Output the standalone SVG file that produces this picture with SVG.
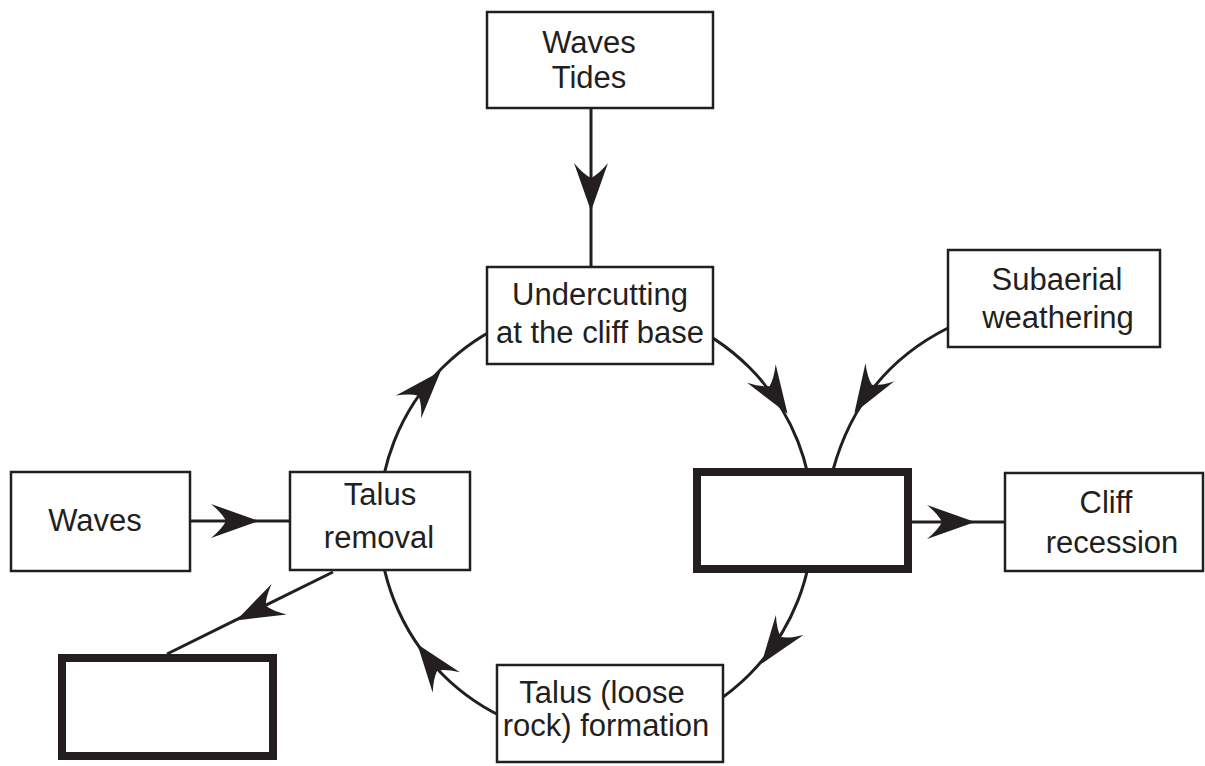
<svg xmlns="http://www.w3.org/2000/svg" xmlns:xlink="http://www.w3.org/1999/xlink" width="1205" height="766" viewBox="0 0 1205 766">
<style>
.box{fill:#fff;stroke:#231f20;stroke-width:2.5}
.thick{fill:#fff;stroke:#231f20;stroke-width:8}
.ln{fill:none;stroke:#231f20;stroke-width:3}
.ah{fill:#231f20;stroke:none}
text{font-family:"Liberation Sans",Arial,Helvetica,sans-serif;font-size:31px;fill:#231f20;text-anchor:middle}
</style>
<defs>
<path id="ah" class="ah" d="M1,0 L-47,-17 Q-36,-8 -32,0 Q-36,8 -47,17 Z"/>
</defs>
<rect width="1205" height="766" fill="#fff"/>
<g id="connectors">
<circle class="ln" cx="596" cy="521" r="217"/>
<line class="ln" x1="591" y1="108" x2="591" y2="267"/>
<line class="ln" x1="190" y1="521" x2="290" y2="521"/>
<line class="ln" x1="912" y1="522" x2="1005" y2="522"/>
<line class="ln" x1="333" y1="572" x2="167" y2="654"/>
<path class="ln" d="M948,328 Q860,372 833,470"/>
<use xlink:href="#ah" transform="translate(591,210) rotate(90)"/>
<use xlink:href="#ah" transform="translate(258,521)"/>
<use xlink:href="#ah" transform="translate(974,522)"/>
<use xlink:href="#ah" transform="translate(237,620) rotate(153.7)"/>
<use xlink:href="#ah" transform="translate(855,412) rotate(122)"/>
<use xlink:href="#ah" transform="translate(787,413) rotate(57)"/>
<use xlink:href="#ah" transform="translate(762,663) rotate(126)"/>
<use xlink:href="#ah" transform="translate(418,645) rotate(233)"/>
<use xlink:href="#ah" transform="translate(440,372) rotate(-48)"/>
</g>
<g id="waves-tides">
<rect class="box" x="487" y="12" width="226" height="96"/>
<text x="589" y="53">Waves</text>
<text x="589" y="88">Tides</text>
</g>
<g id="undercutting">
<rect class="box" x="487" y="267" width="226" height="97"/>
<text x="600" y="305">Undercutting</text>
<text x="600" y="343">at the cliff base</text>
</g>
<g id="subaerial">
<rect class="box" x="948" y="250" width="212" height="97"/>
<text x="1057" y="290">Subaerial</text>
<text x="1058" y="328">weathering</text>
</g>
<g id="center-box">
<rect class="thick" x="697" y="472" width="211" height="97"/>
</g>
<g id="cliff-recession">
<rect class="box" x="1005" y="473" width="198" height="98"/>
<text x="1106" y="513">Cliff</text>
<text x="1112" y="553">recession</text>
</g>
<g id="waves">
<rect class="box" x="11" y="472" width="179" height="99"/>
<text x="95" y="531">Waves</text>
</g>
<g id="talus-removal">
<rect class="box" x="290" y="472" width="180" height="98"/>
<text x="380" y="505">Talus</text>
<text x="379" y="548">removal</text>
</g>
<g id="talus-formation">
<rect class="box" x="497" y="665" width="226" height="97"/>
<text x="602" y="703">Talus (loose</text>
<text x="606" y="736">rock) formation</text>
</g>
<g id="bottom-box">
<rect class="thick" x="62" y="658" width="211" height="98"/>
</g>
</svg>
